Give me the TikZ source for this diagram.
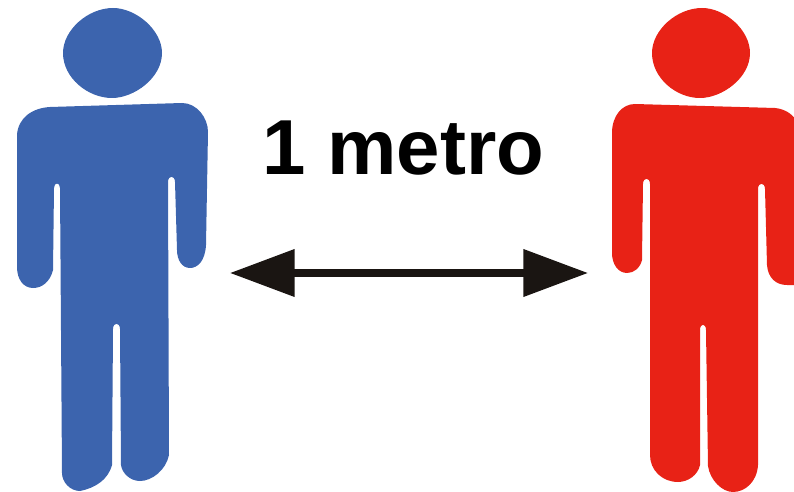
\documentclass[tikz,border=0pt]{standalone}
\usepackage{fontspec}
\setmainfont{Liberation Sans}
\usetikzlibrary{arrows.meta}
\definecolor{manblue}{HTML}{3C64AE}
\definecolor{manred}{HTML}{E82216}
\definecolor{arrowblack}{HTML}{1A1512}

\begin{document}
\begin{tikzpicture}[
  x=0.75pt, y=-0.75pt,
  man/.style={line width=0.4pt, line join=round},
  arr/.style={{Triangle[length=48.5pt, width=34.5pt]}-{Triangle[length=48.5pt, width=34.5pt]},
              line width=5.5pt, draw=arrowblack},
  distlabel/.style={font=\fontsize{58.5pt}{58.5pt}\selectfont\bfseries, text=black, inner sep=0pt},
]
\useasboundingbox (0,0) rectangle (794,492);

% ---------------------------------------------------------------- blue man
\fill[manblue, man] (113,8) .. controls (136,8) and (162,30) .. (162,53)
  .. controls (162,78) and (134,98) .. (112,98)
  .. controls (88,98) and (63,78) .. (63,53)
  .. controls (63,30) and (88,8) .. (113,8) -- cycle;
\fill[manblue, man] (17,135) .. controls (18,118) and (32,108) .. (50,107)
  -- (182,103) .. controls (197,103) and (208,118) .. (208,132)
  -- (206,245) .. controls (205,262) and (197,268) .. (190,268)
  .. controls (182,268) and (177,260) .. (177,250)
  -- (175,182) .. controls (175,175) and (168,175) .. (168,182)
  -- (169,455) .. controls (166,470) and (152,481) .. (140,481)
  .. controls (130,481) and (122,473) .. (121,465)
  -- (120,329) .. controls (120,322) and (113,322) .. (113,329)
  -- (112,465) .. controls (108,480) and (95,488) .. (80,491)
  .. controls (70,491) and (62,482) .. (62,473)
  -- (60,188) .. controls (60,182) and (54,182) .. (54,188)
  -- (53,270) .. controls (50,282) and (42,288) .. (33,288)
  .. controls (24,288) and (17,280) .. (17,267) -- cycle;

% ----------------------------------------------------------------- red man
\fill[manred, man] (702,8) .. controls (725,8) and (750,30) .. (750,53)
  .. controls (750,78) and (722,98) .. (700,98)
  .. controls (676,98) and (652,78) .. (652,53)
  .. controls (652,30) and (677,8) .. (702,8) -- cycle;
\fill[manred, man] (612,133) .. controls (612,116) and (622,104) .. (635,104)
  -- (775,108) .. controls (785,109) and (792,114) .. (796,120)
  -- (796,285) -- (787,285)
  .. controls (776,285) and (768,278) .. (767,265)
  -- (765,189) .. controls (765,182) and (758,182) .. (758,189)
  -- (758,465) .. controls (757,482) and (745,492) .. (733,492)
  .. controls (722,492) and (710,480) .. (708,466)
  -- (706,330) .. controls (706,323) and (700,323) .. (700,330)
  -- (700,465) .. controls (698,475) and (688,482) .. (678,482)
  .. controls (662,482) and (650,470) .. (650,455)
  -- (650,184) .. controls (650,177) and (643,177) .. (643,184)
  -- (642,260) .. controls (640,268) and (634,273) .. (627,273)
  .. controls (618,273) and (612,264) .. (612,253) -- cycle;

% ---------------------------------------------------------------- distance
\node[distlabel, anchor=base] (dist) at (403.5,175) {1 metro};
\coordinate (leftend)  at (230,273);
\coordinate (rightend) at (588,273);
\draw[arr] (leftend) -- (rightend);

\end{tikzpicture}
\end{document}
